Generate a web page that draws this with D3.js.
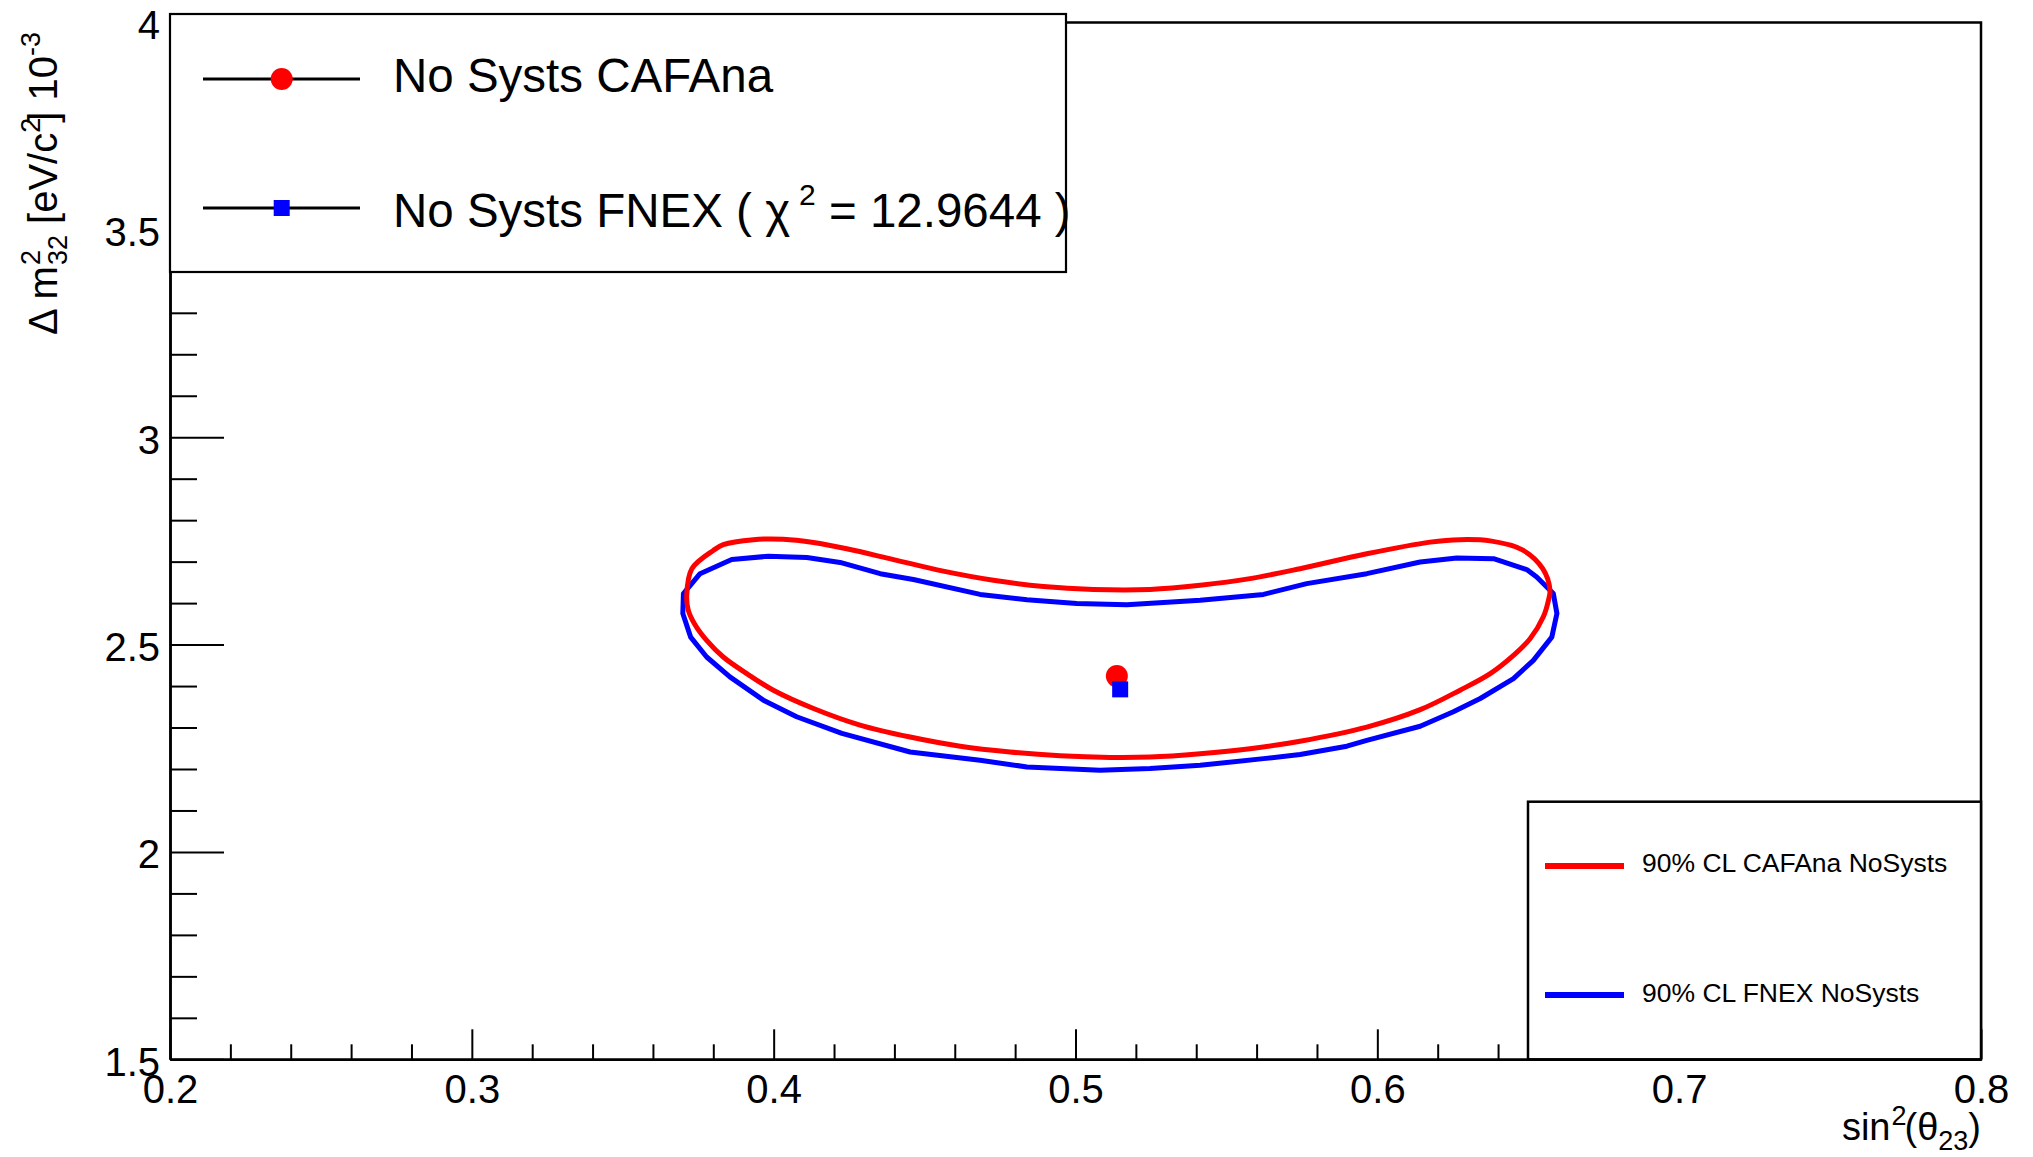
<!DOCTYPE html>
<html>
<head>
<meta charset="utf-8">
<script src="https://cdn.jsdelivr.net/npm/d3@7"></script>
<style>
  html, body { margin: 0; padding: 0; background: #fff; }
  svg { display: block; font-family: "Liberation Sans", Arial, Helvetica, sans-serif; }
</style>
</head>
<body>
<svg id="chart" width="2033" height="1157"></svg>
<script>
// ---------------- data ----------------
const xDomain = [0.2, 0.8];
const yDomain = [1.5, 4.0];
const xMajorTicks = [0.2, 0.3, 0.4, 0.5, 0.6, 0.7, 0.8];
const xTickLabels = ["0.2", "0.3", "0.4", "0.5", "0.6", "0.7", "0.8"];
const yMajorTicks = [1.5, 2.0, 2.5, 3.0, 3.5, 4.0];
const yTickLabels = ["1.5", "2", "2.5", "3", "3.5", "4"];

// 90% CL contour, CAFAna (red)  [sin^2(theta23), dm2_32 (1e-3 eV^2)]
const cafanaX = [0.3712, 0.3729, 0.3800, 0.3833, 0.3933, 0.4032, 0.4132, 0.4242, 0.4397, 0.4562, 0.4728, 0.4894, 0.5059, 0.5247, 0.5413, 0.5578, 0.5744, 0.5965, 0.6175, 0.6274, 0.6374, 0.6479, 0.6548, 0.6572, 0.6567, 0.6550, 0.6506, 0.6451, 0.6374, 0.6274, 0.6142, 0.5965, 0.5744, 0.5578, 0.5413, 0.5247, 0.5115, 0.4949, 0.4783, 0.4618, 0.4452, 0.4286, 0.4132, 0.3999, 0.3911, 0.3833, 0.3778, 0.3740, 0.3717];
const cafanaY = [2.619, 2.683, 2.727, 2.741, 2.753, 2.754, 2.746, 2.731, 2.705, 2.677, 2.655, 2.640, 2.633, 2.633, 2.643, 2.659, 2.683, 2.719, 2.747, 2.753, 2.750, 2.729, 2.683, 2.631, 2.607, 2.567, 2.514, 2.474, 2.430, 2.390, 2.343, 2.301, 2.267, 2.249, 2.237, 2.229, 2.228, 2.232, 2.241, 2.255, 2.277, 2.306, 2.346, 2.390, 2.430, 2.470, 2.510, 2.547, 2.583];

// 90% CL contour, FNEX (blue)
const fnexX = [0.3699, 0.3701, 0.3756, 0.3861, 0.3982, 0.4110, 0.4220, 0.4353, 0.4463, 0.4684, 0.4839, 0.5004, 0.5170, 0.5413, 0.5623, 0.5766, 0.5965, 0.6142, 0.6263, 0.6385, 0.6495, 0.6528, 0.6583, 0.6595, 0.6578, 0.6517, 0.6451, 0.6341, 0.6252, 0.6142, 0.5965, 0.5899, 0.5744, 0.5623, 0.5413, 0.5247, 0.5081, 0.4839, 0.4684, 0.4452, 0.4226, 0.4076, 0.3966, 0.3855, 0.3778, 0.3725];
const fnexY = [2.575, 2.623, 2.671, 2.705, 2.713, 2.710, 2.698, 2.671, 2.657, 2.621, 2.608, 2.599, 2.596, 2.607, 2.621, 2.647, 2.671, 2.699, 2.709, 2.707, 2.681, 2.663, 2.623, 2.575, 2.518, 2.462, 2.418, 2.370, 2.338, 2.303, 2.269, 2.255, 2.235, 2.225, 2.209, 2.201, 2.197, 2.205, 2.221, 2.241, 2.286, 2.326, 2.366, 2.422, 2.470, 2.518];

// best-fit points
const bestFitCafana = [0.5137, 2.424];
const bestFitFnex = [0.5148, 2.392];

const legendTopLabels = ["No Systs CAFAna", "No Systs FNEX ( \u03C7", "2", " = 12.9644 )"];
const legendBottomLabels = ["90% CL CAFAna NoSysts", "90% CL FNEX NoSysts"];

// ---------------- drawing ----------------
const svg = d3.select("#chart");
const pLeft = 170, pRight = 1981, pTop = 22.5, pBottom = 1059.3;

const x = d3.scaleLinear().domain(xDomain).range([pLeft, pRight]);
const y = d3.scaleLinear().domain(yDomain).range([pBottom, pTop]);

const FONT = 40;

// frame (top and right)
svg.append("path")
  .attr("d", `M${pLeft},${pTop}H${pRight}V${pBottom}`)
  .attr("fill", "none").attr("stroke", "#000").attr("stroke-width", 2.5);

// x axis
const xMinor = d3.range(0.2, 0.8001, 0.02).map(v => +v.toFixed(2)).filter(v => !xMajorTicks.some(m => Math.abs(m - v) < 1e-6));
const gxMinor = svg.append("g").attr("transform", `translate(0,${pBottom})`)
  .call(d3.axisBottom(x).tickValues(xMinor).tickSizeInner(-15).tickSizeOuter(0).tickFormat(""));
const gx = svg.append("g").attr("transform", `translate(0,${pBottom})`)
  .call(d3.axisBottom(x).tickValues(xMajorTicks).tickSizeInner(-30).tickSizeOuter(0).tickPadding(15)
    .tickFormat((d, i) => xTickLabels[i]));

// y axis
const yMinor = d3.range(1.5, 4.0001, 0.1).map(v => +v.toFixed(1)).filter(v => !yMajorTicks.some(m => Math.abs(m - v) < 1e-6));
const gyMinor = svg.append("g").attr("transform", `translate(${pLeft},0)`)
  .call(d3.axisLeft(y).tickValues(yMinor).tickSizeInner(-27).tickSizeOuter(0).tickFormat(""));
const gy = svg.append("g").attr("transform", `translate(${pLeft},0)`)
  .call(d3.axisLeft(y).tickValues(yMajorTicks).tickSizeInner(-54).tickSizeOuter(0).tickPadding(10)
    .tickFormat((d, i) => yTickLabels[i]));

[gx, gy, gxMinor, gyMinor].forEach(g => {
  g.select(".domain").attr("stroke", "#000").attr("stroke-width", 2.5);
  g.selectAll(".tick line").attr("stroke", "#000").attr("stroke-width", 2);
  g.selectAll("text").attr("font-family", "Liberation Sans, Arial, sans-serif")
    .attr("font-size", FONT).attr("fill", "#000");
});
gy.selectAll(".tick text").attr("dy", "0.4em");
gx.selectAll(".tick text").attr("dy", "0.72em");

// axis titles
const xt = svg.append("text")
  .attr("x", pRight).attr("y", 1140)
  .attr("text-anchor", "end").attr("font-size", 38).attr("fill", "#000");
xt.append("tspan").text("sin");
xt.append("tspan").attr("font-size", 27).attr("dy", -15).attr("dx", 1).text("2");
xt.append("tspan").attr("font-size", 38).attr("dy", 15).attr("dx", -2).text("(\u03B8");
xt.append("tspan").attr("font-size", 27).attr("dy", 10).text("23");
xt.append("tspan").attr("font-size", 38).attr("dy", -10).text(")");

const yt = svg.append("text")
  .attr("transform", "translate(57,32) rotate(-90)")
  .attr("text-anchor", "end").attr("font-size", 40).attr("fill", "#000");
yt.append("tspan").text("\u0394 m");
yt.append("tspan").attr("font-size", 27).attr("dy", -17).attr("dx", 1).text("2");
yt.append("tspan").attr("font-size", 27).attr("dy", 27).attr("dx", -15).text("32");
yt.append("tspan").attr("font-size", 40).attr("dy", -10).text(" [eV/c");
yt.append("tspan").attr("font-size", 27).attr("dy", -17).text("2");
yt.append("tspan").attr("font-size", 40).attr("dy", 17).attr("dx", -5).text("] 10");
yt.append("tspan").attr("font-size", 27).attr("dy", -17).text("-3");

// contours
const toPts = (xs, ys) => xs.map((v, i) => [v, ys[i]]);
const lineSmooth = d3.line().x(d => x(d[0])).y(d => y(d[1])).curve(d3.curveCatmullRomClosed.alpha(0.5));
const lineLin = d3.line().x(d => x(d[0])).y(d => y(d[1])).curve(d3.curveLinearClosed);

svg.append("path").datum(toPts(fnexX, fnexY))
  .attr("d", lineLin).attr("fill", "none").attr("stroke", "#0000ff").attr("stroke-width", 5)
  .attr("stroke-linejoin", "round");
svg.append("path").datum(toPts(cafanaX, cafanaY))
  .attr("d", lineSmooth).attr("fill", "none").attr("stroke", "#ff0000").attr("stroke-width", 5)
  .attr("stroke-linejoin", "round");

// best fit markers
svg.append("circle").attr("cx", x(bestFitCafana[0])).attr("cy", y(bestFitCafana[1])).attr("r", 11).attr("fill", "#ff0000");
svg.append("rect").attr("x", x(bestFitFnex[0]) - 8).attr("y", y(bestFitFnex[1]) - 8)
  .attr("width", 16).attr("height", 16).attr("fill", "#0000ff");

// legend top-left
const lg1 = svg.append("g");
lg1.append("rect").attr("x", 170).attr("y", 14).attr("width", 896).attr("height", 258)
  .attr("fill", "#fff").attr("stroke", "#000").attr("stroke-width", 2.2);
lg1.append("line").attr("x1", 203).attr("x2", 360).attr("y1", 79).attr("y2", 79).attr("stroke", "#000").attr("stroke-width", 3);
lg1.append("circle").attr("cx", 281.7).attr("cy", 79).attr("r", 11).attr("fill", "#ff0000");
lg1.append("line").attr("x1", 203).attr("x2", 360).attr("y1", 208).attr("y2", 208).attr("stroke", "#000").attr("stroke-width", 3);
lg1.append("rect").attr("x", 273.7).attr("y", 200).attr("width", 16).attr("height", 16).attr("fill", "#0000ff");
lg1.append("text").attr("x", 393).attr("y", 92).attr("font-size", 47.5).attr("fill", "#000").text(legendTopLabels[0]);
const t2 = lg1.append("text").attr("x", 393).attr("y", 227).attr("font-size", 47.5).attr("fill", "#000");
t2.append("tspan").text(legendTopLabels[1]);
t2.append("tspan").attr("font-size", 30).attr("dy", -22).attr("dx", 9).text(legendTopLabels[2]);
t2.append("tspan").attr("font-size", 47.5).attr("dy", 22).text(legendTopLabels[3]);

// legend bottom-right
const lg2 = svg.append("g");
lg2.append("rect").attr("x", 1528).attr("y", 801.7).attr("width", 453).attr("height", 257.6)
  .attr("fill", "#fff").attr("stroke", "#000").attr("stroke-width", 2.5);
lg2.append("line").attr("x1", 1545).attr("x2", 1624).attr("y1", 866).attr("y2", 866).attr("stroke", "#ff0000").attr("stroke-width", 6);
lg2.append("line").attr("x1", 1545).attr("x2", 1624).attr("y1", 995).attr("y2", 995).attr("stroke", "#0000ff").attr("stroke-width", 6);
lg2.append("text").attr("x", 1642).attr("y", 872).attr("font-size", 26.5).attr("fill", "#000").text(legendBottomLabels[0]);
lg2.append("text").attr("x", 1642).attr("y", 1002).attr("font-size", 26.5).attr("fill", "#000").text(legendBottomLabels[1]);
</script>
</body>
</html>
